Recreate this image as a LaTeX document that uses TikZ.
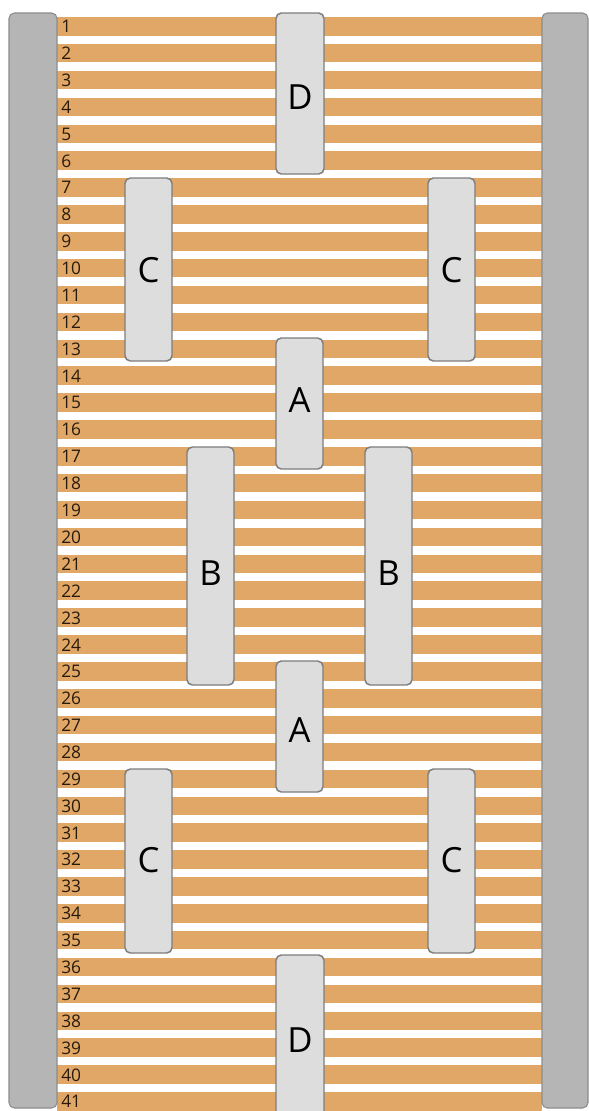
\documentclass[tikz,border=0pt]{standalone}
\usepackage{fontspec}
\setmainfont{Open Sans}
\usetikzlibrary{fit}
\definecolor{stripe}{RGB}{224,167,102}
\definecolor{rail}{RGB}{181,181,181}
\definecolor{railedge}{RGB}{140,140,140}
\definecolor{boxfill}{RGB}{221,221,221}
\definecolor{boxedge}{RGB}{125,125,125}
\definecolor{numtext}{RGB}{40,26,12}
\begin{document}
\begin{tikzpicture}[x=0.75pt,y=-0.75pt,
  railbox/.style={draw=railedge, fill=rail, line width=0.8pt, rounded corners=4pt, inner sep=0pt},
  partbox/.style={draw=boxedge, fill=boxfill, line width=1.1pt, rounded corners=4pt, inner sep=0pt},
  letter/.style={inner sep=0pt, text=black, font=\fontsize{26}{28}\selectfont},
  num/.style={inner sep=0pt, anchor=west, text=numtext, font=\fontsize{13}{14}\selectfont}]
\useasboundingbox (0,0) rectangle (589,1111);
\clip (0,0) rectangle (589,1111);
\fill[white] (0,0) rectangle (589,1111);
% stripes
\foreach \i in {1,...,41} {
  \fill[stripe] (57,{17+(\i-1)*26.88}) rectangle (542,{35.5+(\i-1)*26.88});
  \node[num] (n\i) at (61,{26.5+(\i-1)*26.88}) {\i};
}
% side rails
\node[railbox, fit={(9,13) (57,1108)}] (railL) {};
\node[railbox, fit={(542,13) (588,1108)}] (railR) {};
% parts
\node[partbox, fit={(276,13) (324,174)}] (d1) {};
\node[partbox, fit={(125,178) (172,361)}] (c1l) {};
\node[partbox, fit={(428,178) (475,361)}] (c1r) {};
\node[partbox, fit={(276,338) (323,469)}] (a1) {};
\node[partbox, fit={(187,447) (234,685)}] (bl) {};
\node[partbox, fit={(365,447) (412,685)}] (br) {};
\node[partbox, fit={(276,661) (323,792)}] (a2) {};
\node[partbox, fit={(125,769) (172,953)}] (c2l) {};
\node[partbox, fit={(428,769) (475,953)}] (c2r) {};
\node[partbox, fit={(276,955) (324,1125)}] (d2) {};
% labels
\node[letter] (d1t) at (300,97) {D};
\node[letter] (c1lt) at (148.5,270) {C};
\node[letter] (c1rt) at (451.5,270) {C};
\node[letter] (a1t) at (299.5,400) {A};
\node[letter] (blt) at (210.5,573) {B};
\node[letter] (brt) at (388.5,573) {B};
\node[letter] (a2t) at (299.5,730) {A};
\node[letter] (c2lt) at (148.5,860) {C};
\node[letter] (c2rt) at (451.5,860) {C};
\node[letter] (d2t) at (300,1040) {D};
\end{tikzpicture}
\end{document}
